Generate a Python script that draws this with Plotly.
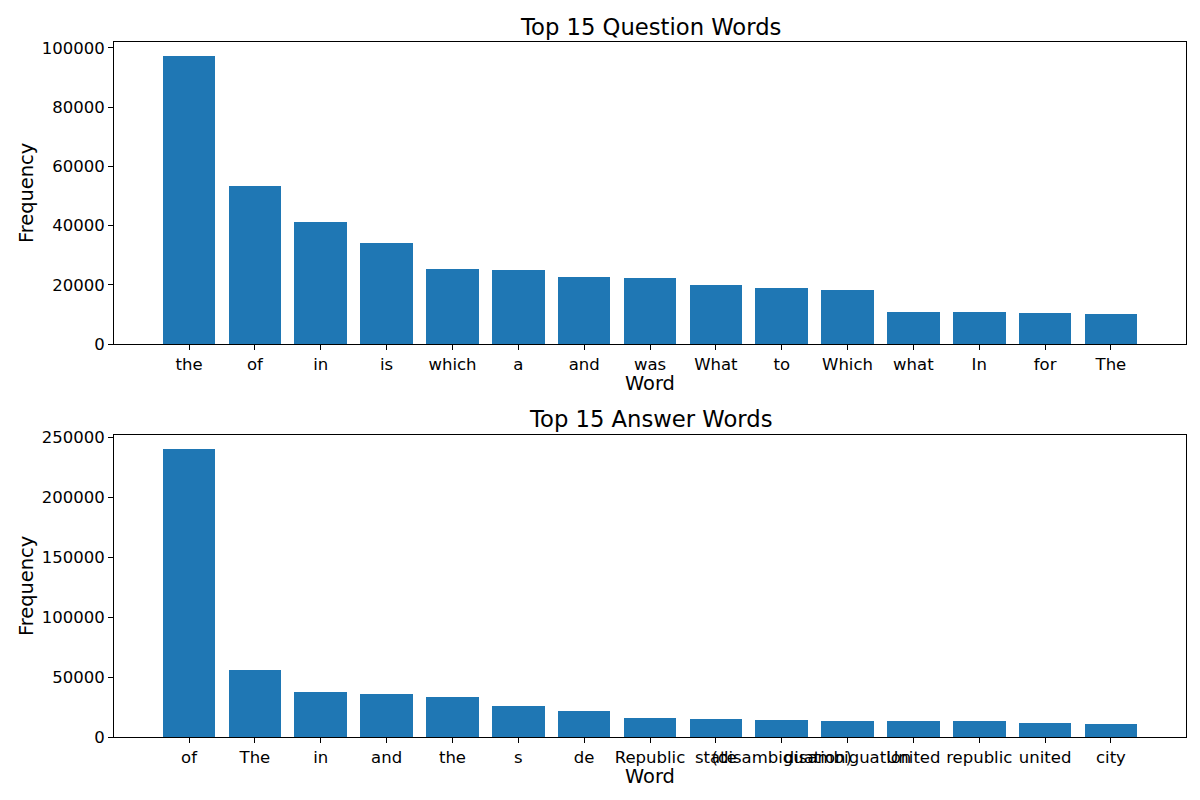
import plotly.graph_objects as go

q_words = ["the", "of", "in", "is", "which", "a", "and", "was", "What", "to", "Which", "what", "In", "for", "The"]
q_freq = [97100, 53500, 41300, 34200, 25400, 25100, 22700, 22400, 20000, 19000, 18300, 10900, 10900, 10500, 10200]

a_words = ["of", "The", "in", "and", "the", "s", "de", "Republic", "state", "(disambiguation)", "disambiguation", "United", "republic", "united", "city"]
a_freq = [239700, 55800, 37500, 35800, 33300, 25800, 21700, 15800, 15000, 14200, 13400, 13400, 13300, 11700, 10800]

q_ticks = [0, 20000, 40000, 60000, 80000, 100000]
a_ticks = [0, 50000, 100000, 150000, 200000, 250000]

BLUE = "#1f77b4"
FONT = "DejaVu Sans"

fig = go.Figure()
fig.add_trace(go.Bar(x=list(range(len(q_words))), y=q_freq, marker=dict(color=BLUE, line=dict(width=0)),
                     width=0.8, xaxis="x", yaxis="y", showlegend=False))
fig.add_trace(go.Bar(x=list(range(len(a_words))), y=a_freq, marker=dict(color=BLUE, line=dict(width=0)),
                     width=0.8, xaxis="x2", yaxis="y2", showlegend=False))

H = 695.0
top_lo = (736 - 343) / H
bot_hi = (736 - 434) / H

axis_common = dict(showline=True, linecolor="black", linewidth=1, mirror=True,
                   ticks="outside", ticklen=5, tickcolor="black", showgrid=False,
                   zeroline=False, tickfont=dict(family=FONT, size=16.5, color="black"))

fig.update_layout(
    width=1200, height=800,
    margin=dict(l=106, r=22, t=34, b=71),
    plot_bgcolor="white", paper_bgcolor="white",
    font=dict(family=FONT, color="black"),
    bargap=0,
    xaxis=dict(domain=[0, 1], anchor="y", range=[-1.14, 15.14],
               tickmode="array", tickvals=list(range(len(q_words))), ticktext=q_words,
               tickangle=0, **axis_common),
    yaxis=dict(domain=[top_lo, 1], anchor="x", range=[0, q_freq[0] * 1.05],
               tickmode="array", tickvals=q_ticks, ticktext=[str(t) for t in q_ticks],
               **axis_common),
    xaxis2=dict(domain=[0, 1], anchor="y2", range=[-1.14, 15.14],
                tickmode="array", tickvals=list(range(len(a_words))), ticktext=a_words,
                tickangle=0, **axis_common),
    yaxis2=dict(domain=[0, bot_hi], anchor="x2", range=[0, a_freq[0] * 1.05],
                tickmode="array", tickvals=a_ticks, ticktext=[str(t) for t in a_ticks],
                **axis_common),
)

def ann(text, x, y, size, angle=0):
    fig.add_annotation(text=text, x=x, y=y, xref="paper", yref="paper",
                       showarrow=False, xanchor="center", yanchor="middle",
                       textangle=angle, font=dict(family=FONT, size=size, color="black"))

ann("Top 15 Question Words", 0.5, (736 - 26) / H, 22.7)
ann("Top 15 Answer Words", 0.5, (736 - 418) / H, 22.7)
ann("Word", 0.5, (736 - 382) / H, 19.4)
ann("Word", 0.5, (736 - 775) / H, 19.4)
ann("Frequency", (25 - 113) / 1072, (736 - 192) / H, 19.4, -90)
ann("Frequency", (25 - 113) / 1072, (736 - 585) / H, 19.4, -90)

fig.write_html("out.html")
